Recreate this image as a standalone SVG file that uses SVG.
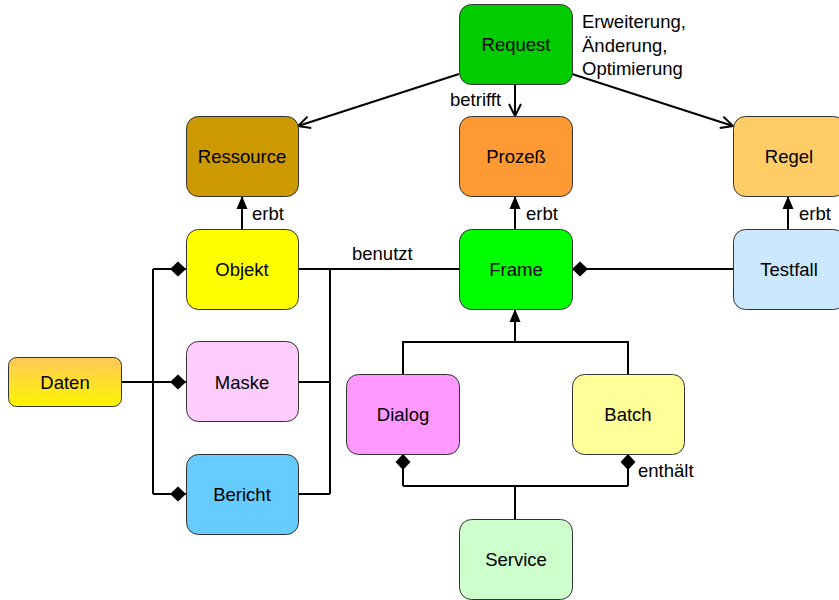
<svg xmlns="http://www.w3.org/2000/svg" width="839" height="600" viewBox="0 0 839 600">
<style>
.n{stroke:#333;stroke-width:1}
.t{font-family:"Liberation Sans",Arial,sans-serif;font-size:18.5px;text-anchor:middle;fill:#000}
.l{font-family:"Liberation Sans",Arial,sans-serif;font-size:18.5px;fill:#000}
.c{fill:none;stroke:#000;stroke-width:2}
</style>
<defs>
<linearGradient id="gd" x1="0" y1="0" x2="0" y2="1">
<stop offset="0" stop-color="#FFC85A"/>
<stop offset="1" stop-color="#FFF500"/>
</linearGradient>
<marker id="fa" markerUnits="userSpaceOnUse" markerWidth="20" markerHeight="20" refX="0" refY="0" orient="auto" overflow="visible">
<path d="M0,0 L-13,-5.5 L-13,5.5 z" fill="#000"/>
</marker>
<marker id="oa" markerUnits="userSpaceOnUse" markerWidth="20" markerHeight="20" refX="0" refY="0" orient="auto" overflow="visible">
<path d="M-12,-6 L0,0 L-12,6" fill="none" stroke="#000" stroke-width="2"/>
</marker>
<marker id="dm" markerUnits="userSpaceOnUse" markerWidth="20" markerHeight="20" refX="0" refY="0" orient="auto" overflow="visible">
<path d="M0,0 L-8,-7.5 L-16,0 L-8,7.5 z" fill="#000"/>
</marker>
</defs>
<g id="connectors">
<path class="c" d="M459,74 L298,126" marker-end="url(#oa)"/>
<path class="c" d="M572,74 L733,126" marker-end="url(#oa)"/>
<path class="c" d="M515,84 V116" marker-end="url(#oa)"/>
<path class="c" d="M242,229 V196" marker-end="url(#fa)"/>
<path class="c" d="M515,229 V196" marker-end="url(#fa)"/>
<path class="c" d="M788,229 V196" marker-end="url(#fa)"/>
<path class="c" d="M121,382 H186" marker-end="url(#dm)"/>
<path class="c" d="M153,269 V494"/>
<path class="c" d="M153,269 H186" marker-end="url(#dm)"/>
<path class="c" d="M153,494 H186" marker-end="url(#dm)"/>
<path class="c" d="M298,269 H459"/>
<path class="c" d="M298,382 H330"/>
<path class="c" d="M298,494 H330"/>
<path class="c" d="M330,269 V494"/>
<path class="c" d="M733,269 H572" marker-end="url(#dm)"/>
<path class="c" d="M403,374 V342 H628 V374"/>
<path class="c" d="M515,342 V309" marker-end="url(#fa)"/>
<path class="c" d="M515,519 V486"/>
<path class="c" d="M403,486 H628"/>
<path class="c" d="M403,486 V454" marker-end="url(#dm)"/>
<path class="c" d="M628,486 V454" marker-end="url(#dm)"/>
<text class="l" x="582" y="28">Erweiterung,</text>
<text class="l" x="582" y="52">Änderung,</text>
<text class="l" x="582" y="75">Optimierung</text>
<text class="l" x="450" y="106">betrifft</text>
<text class="l" x="252" y="220">erbt</text>
<text class="l" x="526" y="220">erbt</text>
<text class="l" x="799" y="220">erbt</text>
<text class="l" x="352" y="260">benutzt</text>
<text class="l" x="638" y="477">enthält</text>
</g>
<g id="request"><rect class="n" x="459.5" y="4.5" width="113" height="80" rx="12" fill="#00CC00"/><text class="t" x="516" y="51">Request</text></g>
<g id="ressource"><rect class="n" x="186.5" y="116.5" width="112" height="80" rx="12" fill="#CC9900"/><text class="t" x="242" y="163">Ressource</text></g>
<g id="prozess"><rect class="n" x="459.5" y="116.5" width="113" height="80" rx="12" fill="#FF9933"/><text class="t" x="516" y="163">Prozeß</text></g>
<g id="regel"><rect class="n" x="733.5" y="116.5" width="112" height="80" rx="12" fill="#FFCC66"/><text class="t" x="789" y="163">Regel</text></g>
<g id="objekt"><rect class="n" x="186.5" y="229.5" width="112" height="80" rx="12" fill="#FFFF00"/><text class="t" x="242" y="276">Objekt</text></g>
<g id="frame"><rect class="n" x="459.5" y="229.5" width="113" height="80" rx="12" fill="#00FF00"/><text class="t" x="516" y="276">Frame</text></g>
<g id="testfall"><rect class="n" x="733.5" y="229.5" width="112" height="80" rx="12" fill="#CCE8FF"/><text class="t" x="789" y="276">Testfall</text></g>
<g id="daten"><rect class="n" x="8.5" y="357.5" width="113" height="49" rx="8" fill="url(#gd)"/><text class="t" x="65" y="389">Daten</text></g>
<g id="maske"><rect class="n" x="186.5" y="341.5" width="112" height="80" rx="12" fill="#FFCCFF"/><text class="t" x="242" y="389">Maske</text></g>
<g id="bericht"><rect class="n" x="186.5" y="454.5" width="112" height="80" rx="12" fill="#66CCFF"/><text class="t" x="242" y="501">Bericht</text></g>
<g id="dialog"><rect class="n" x="346.5" y="374.5" width="113" height="80" rx="12" fill="#FF99FF"/><text class="t" x="403" y="421">Dialog</text></g>
<g id="batch"><rect class="n" x="572.5" y="374.5" width="112" height="80" rx="12" fill="#FFFF99"/><text class="t" x="628" y="421">Batch</text></g>
<g id="service"><rect class="n" x="459.5" y="519.5" width="113" height="80" rx="12" fill="#CCFFCC"/><text class="t" x="516" y="566">Service</text></g>
</svg>
